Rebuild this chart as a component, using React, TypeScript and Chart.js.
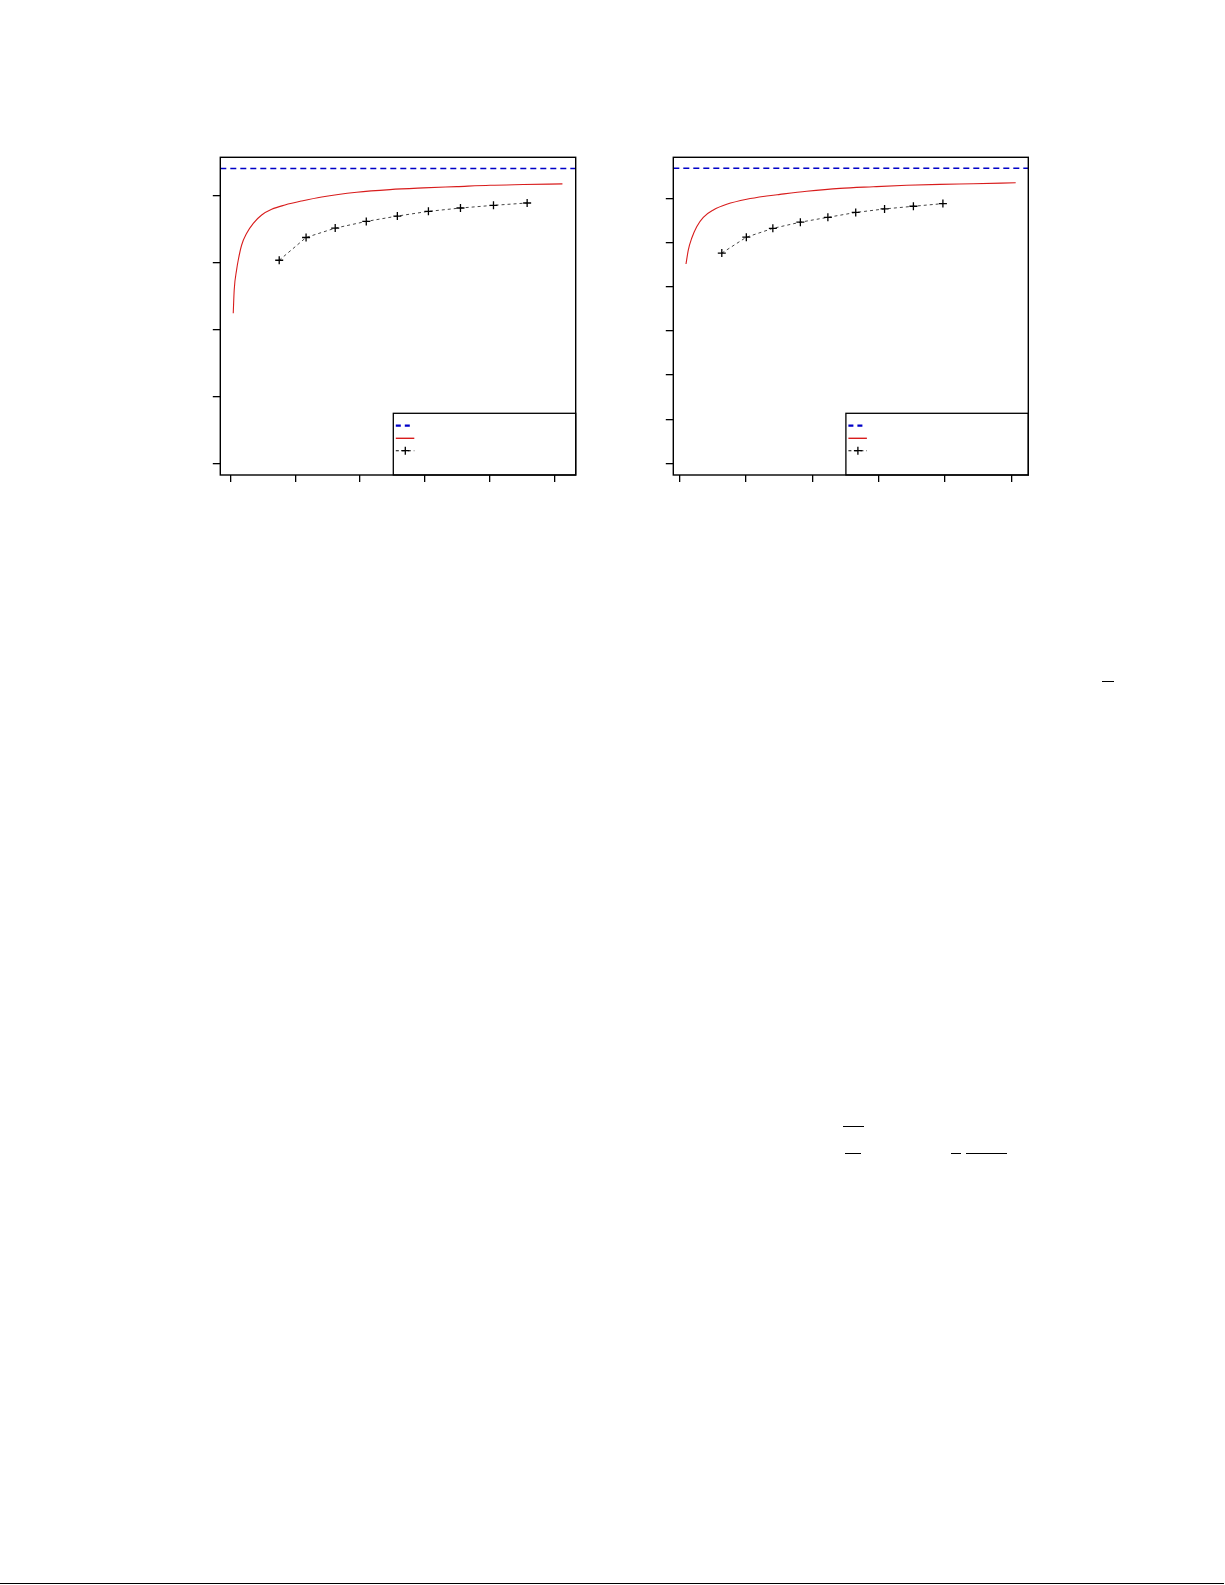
import { useEffect, useRef } from "react"
import { Chart, registerables } from "chart.js"

Chart.register(...registerables)

// left panel
const leftTickX = [0, 200, 400, 600, 800, 1000]
const leftTickY = [0.1, 0.2, 0.3, 0.4, 0.5]
const leftCapacity = 0.54
const leftNormalN = [8, 11, 18.5, 23.5, 34, 49.5, 69.9, 95.8, 126.7, 167.8, 219.5, 281.3, 389.5, 492.4, 595.4, 698.6, 801.5, 904.5, 1025]
const leftNormalRate = [0.324, 0.359, 0.389, 0.4034, 0.4258, 0.4433, 0.4582, 0.4706, 0.4791, 0.4855, 0.4915, 0.4975, 0.5045, 0.5085, 0.511, 0.513, 0.515, 0.516, 0.517]
const leftCodeN = [150, 233, 323, 419, 515, 611, 710, 812, 916]
const leftCodeRate = [0.403, 0.437, 0.451, 0.461, 0.469, 0.476, 0.481, 0.485, 0.4885]

// right panel
const rightTickX = [0, 200, 400, 600, 800, 1000]
const rightTickY = [0.2, 0.25, 0.3, 0.35, 0.4, 0.45, 0.5]
const rightCapacity = 0.534
const rightNormalN = [19, 25.9, 36.2, 51.3, 71.2, 101.4, 141.8, 202.1, 262.4, 302.6, 383.1, 483.6, 584, 684.8, 785.2, 885.7, 1013.6]
const rightNormalRate = [0.4257, 0.4415, 0.4548, 0.4679, 0.4785, 0.4868, 0.4932, 0.4989, 0.5026, 0.5045, 0.508, 0.5113, 0.5131, 0.5147, 0.5158, 0.5165, 0.5176]
const rightCodeN = [127, 201, 281, 364, 447, 531, 618, 705, 794]
const rightCodeRate = [0.438, 0.456, 0.466, 0.473, 0.4785, 0.484, 0.488, 0.491, 0.494]

const BLUE = "#0000c8"
const RED = "#d81c1c"

type PanelProps = {
  left: number
  top: number
  xRange: number[]
  yRange: number[]
  tickX: number[]
  tickY: number[]
  capacity: number
  normalN: number[]
  normalRate: number[]
  codeN: number[]
  codeRate: number[]
  axisWidth: number
  padRight: number
}

const framePlugin = {
  id: "frameAndKey",
  afterDraw(chart: any) {
    const { ctx, chartArea } = chart
    const { left, top, right, bottom } = chartArea
    ctx.save()
    // key box in the lower right corner
    const kx = right - 182.4
    const ky = bottom - 61.7
    ctx.fillStyle = "#fff"
    ctx.fillRect(kx, ky, right - kx, bottom - ky)
    ctx.strokeStyle = "#000"
    ctx.lineWidth = 1.3
    ctx.strokeRect(kx, ky, right - kx, bottom - ky)

    ctx.lineWidth = 2.2
    ctx.strokeStyle = BLUE
    ctx.setLineDash([5, 4])
    ctx.beginPath()
    ctx.moveTo(kx + 2.5, ky + 12.4)
    ctx.lineTo(kx + 19, ky + 12.4)
    ctx.stroke()

    ctx.setLineDash([])
    ctx.lineWidth = 1.4
    ctx.strokeStyle = RED
    ctx.beginPath()
    ctx.moveTo(kx + 2.5, ky + 25)
    ctx.lineTo(kx + 21, ky + 25)
    ctx.stroke()

    ctx.strokeStyle = "#000"
    ctx.lineWidth = 1.1
    ctx.setLineDash([3, 3])
    ctx.beginPath()
    ctx.moveTo(kx + 2.5, ky + 37.4)
    ctx.lineTo(kx + 21, ky + 37.4)
    ctx.stroke()
    ctx.setLineDash([])
    ctx.lineWidth = 1.3
    const cx = kx + 12
    const cy = ky + 37.4
    ctx.beginPath()
    ctx.moveTo(cx - 4, cy)
    ctx.lineTo(cx + 4, cy)
    ctx.moveTo(cx, cy - 4)
    ctx.lineTo(cx, cy + 4)
    ctx.stroke()

    // plot frame
    ctx.lineWidth = 1.4
    ctx.strokeRect(left, top, right - left, bottom - top)
    ctx.restore()
  },
}

function Panel(p: PanelProps) {
  const canvasRef = useRef<HTMLCanvasElement | null>(null)

  useEffect(() => {
    if (!canvasRef.current) return
    const chart = new Chart(canvasRef.current, {
      type: "line",
      data: {
        datasets: [
          {
            label: "capacity",
            data: p.xRange.map((x) => ({ x, y: p.capacity })),
            borderColor: BLUE,
            borderWidth: 1.3,
            borderDash: [6, 4],
            pointRadius: 0,
            fill: false,
          },
          {
            label: "normal approximation",
            data: p.normalN.map((x, i) => ({ x, y: p.normalRate[i] })),
            borderColor: RED,
            borderWidth: 1.1,
            pointRadius: 0,
            cubicInterpolationMode: "monotone",
            fill: false,
          },
          {
            label: "codes",
            data: p.codeN.map((x, i) => ({ x, y: p.codeRate[i] })),
            borderColor: "#444",
            borderWidth: 1,
            borderDash: [3, 3],
            pointStyle: "cross",
            pointRadius: 4,
            pointBorderColor: "#000",
            pointBorderWidth: 1.3,
            fill: false,
          },
        ],
      },
      options: {
        animation: false,
        responsive: false,
        layout: { padding: { top: 7.3, right: p.padRight, bottom: 0, left: 0 } },
        plugins: { legend: { display: false }, tooltip: { enabled: false } },
        scales: {
          x: {
            type: "linear",
            min: p.xRange[0],
            max: p.xRange[1],
            afterBuildTicks: (s: any) => {
              s.ticks = p.tickX.map((value) => ({ value }))
            },
            afterFit: (s: any) => {
              s.height = 15
            },
            ticks: { display: false },
            border: { display: false },
            grid: { drawOnChartArea: false, tickLength: 7, color: "#000", lineWidth: 1.3 },
          },
          y: {
            type: "linear",
            min: p.yRange[0],
            max: p.yRange[1],
            afterBuildTicks: (s: any) => {
              s.ticks = p.tickY.map((value) => ({ value }))
            },
            afterFit: (s: any) => {
              s.width = p.axisWidth
            },
            ticks: { display: false },
            border: { display: false },
            grid: { drawOnChartArea: false, tickLength: 7.5, color: "#000", lineWidth: 1.3 },
          },
        },
      },
      plugins: [framePlugin],
    })
    return () => chart.destroy()
  }, [])

  return (
    <canvas
      ref={canvasRef}
      width={390}
      height={340}
      style={{ position: "absolute", left: p.left, top: p.top, width: 390, height: 340 }}
    />
  )
}

const rule = (left: number, top: number, width: number) => (
  <div style={{ position: "absolute", left, top, width, height: 1.2, background: "#000" }} />
)

export default function App() {
  return (
    <div style={{ position: "absolute", left: 0, top: 0, width: 1225, height: 1585, background: "#fff", overflow: "hidden" }}>
      <Panel
        left={200}
        top={150}
        xRange={[-32, 1066]}
        yRange={[0.0825, 0.5567]}
        tickX={leftTickX}
        tickY={leftTickY}
        capacity={leftCapacity}
        normalN={leftNormalN}
        normalRate={leftNormalRate}
        codeN={leftCodeN}
        codeRate={leftCodeRate}
        axisWidth={20.3}
        padRight={14.3}
      />
      <Panel
        left={650}
        top={150}
        xRange={[-19.3, 1051.6]}
        yRange={[0.187, 0.5464]}
        tickX={rightTickX}
        tickY={rightTickY}
        capacity={rightCapacity}
        normalN={rightNormalN}
        normalRate={rightNormalRate}
        codeN={rightCodeN}
        codeRate={rightCodeRate}
        axisWidth={23.3}
        padRight={11.7}
      />
      {rule(1102, 680.5, 12)}
      {rule(843, 1125.8, 21)}
      {rule(845, 1152.8, 16)}
      {rule(951, 1152.8, 10)}
      {rule(966, 1152.8, 41)}
      {rule(0, 1583, 1224)}
    </div>
  )
}
